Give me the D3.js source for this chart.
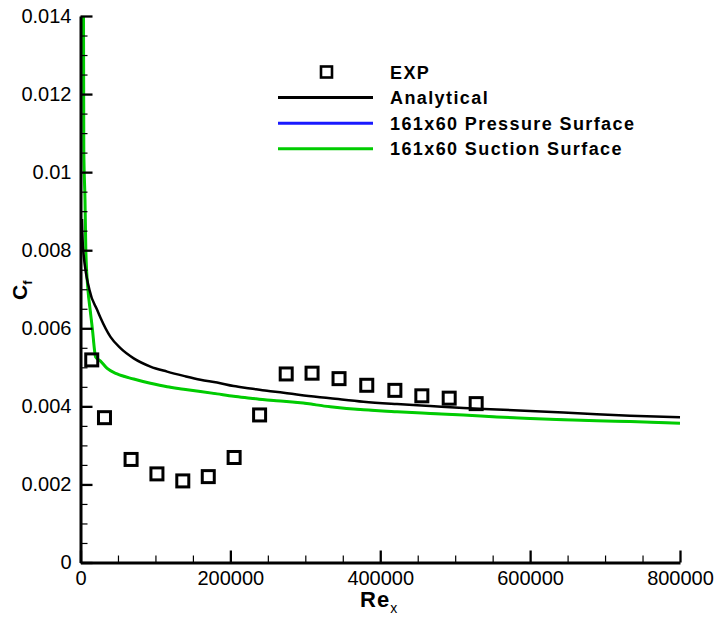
<!DOCTYPE html>
<html>
<head>
<meta charset="utf-8">
<script src="https://cdn.jsdelivr.net/npm/d3@7"></script>
<style>
  body { margin: 0; background: #fff; }
  svg { display: block; font-family: "Liberation Sans", Arial, sans-serif; }
</style>
</head>
<body>
<svg id="chart" width="720" height="622"></svg>
<script>
// experimental skin friction
const expRe = [15000, 32000, 67500, 102000, 136500, 170500, 205000, 239000, 274500, 309000, 345000, 382000, 419500, 455500, 492000, 528000];
const expCf = [0.00519, 0.00371, 0.00264, 0.00227, 0.00209, 0.00220, 0.00269, 0.00378, 0.00483, 0.00485, 0.00471, 0.00454, 0.00441, 0.00427, 0.00421, 0.00407];

// analytical curve
const anaRe = [2000, 3300, 12000, 22300, 26700, 40000, 53300, 71000, 93300, 115600, 137700, 160000, 182300, 204400, 226700, 248900, 271100, 293300, 333300, 377700, 422300, 466700, 511100, 555600, 600000, 644400, 688900, 733300, 800000];
const anaCf = [0.0088, 0.00808, 0.00698, 0.00647, 0.00627, 0.00578, 0.00549, 0.00523, 0.00502, 0.00489, 0.00478, 0.00468, 0.00461, 0.00452, 0.00446, 0.00440, 0.00435, 0.00429, 0.00421, 0.00412, 0.00406, 0.00401, 0.00396, 0.00392, 0.00388, 0.00384, 0.00380, 0.00376, 0.00372];

// 161x60 suction surface
const sucRe = [4000, 4400, 6000, 7100, 10000, 12900, 16000, 18700, 20000, 26700, 35600, 48900, 71000, 93300, 115600, 137700, 160000, 182300, 204400, 226700, 248900, 271100, 293300, 333300, 377700, 422300, 466700, 511100, 555600, 600000, 644400, 688900, 733300, 800000];
const sucCf = [0.0140, 0.01057, 0.00929, 0.00801, 0.00698, 0.00647, 0.00596, 0.00544, 0.00527, 0.00516, 0.00497, 0.00483, 0.00470, 0.00459, 0.00450, 0.00444, 0.00438, 0.00432, 0.00426, 0.00421, 0.00416, 0.00413, 0.00409, 0.00399, 0.00391, 0.00386, 0.00382, 0.00378, 0.00373, 0.00369, 0.00366, 0.00363, 0.00361, 0.00357];

// 161x60 pressure surface (hidden under the suction curve)
const presRe = [4000, 4400, 6000, 7100, 10000, 12900, 16000, 18700, 20000, 26700, 35600, 48900, 71000, 93300, 115600, 137700, 160000, 182300, 204400, 226700, 248900, 271100, 293300, 333300, 377700, 422300, 466700, 511100, 555600, 600000, 644400, 688900, 733300, 800000];
const presCf = [0.0140, 0.01057, 0.00929, 0.00801, 0.00698, 0.00647, 0.00596, 0.00544, 0.00527, 0.00516, 0.00497, 0.00483, 0.00470, 0.00459, 0.00450, 0.00444, 0.00438, 0.00432, 0.00426, 0.00421, 0.00416, 0.00413, 0.00409, 0.00399, 0.00391, 0.00386, 0.00382, 0.00378, 0.00373, 0.00369, 0.00366, 0.00363, 0.00361, 0.00357];

const xTicks = [0, 200000, 400000, 600000, 800000];
const xTickLabels = ['0', '200000', '400000', '600000', '800000'];
const xMinor = [50000, 100000, 150000, 250000, 300000, 350000, 450000, 500000, 550000, 650000, 700000, 750000];
const yTicks = [0, 0.002, 0.004, 0.006, 0.008, 0.01, 0.012, 0.014];
const yTickLabels = ['0', '0.002', '0.004', '0.006', '0.008', '0.01', '0.012', '0.014'];
const yMinor = [0.0005, 0.001, 0.0015, 0.0025, 0.003, 0.0035, 0.0045, 0.005, 0.0055, 0.0065, 0.007, 0.0075, 0.0085, 0.009, 0.0095, 0.0105, 0.011, 0.0115, 0.0125, 0.013, 0.0135];

const legendItems = [
  { name: 'EXP', type: 'square', color: '#000' },
  { name: 'Analytical', type: 'line', color: '#000' },
  { name: '161x60 Pressure Surface', type: 'line', color: '#1a1aff' },
  { name: '161x60 Suction Surface', type: 'line', color: '#00cc00' }
];

const svg = d3.select('#chart');

const x = d3.scaleLinear().domain([0, 800000]).range([80.5, 680]);
const y = d3.scaleLinear().domain([0, 0.014]).range([562.5, 16]);

const zip = (a, b) => a.map((v, i) => [v, b[i]]);
const line = d3.line()
  .x(d => x(d[0]))
  .y(d => y(d[1]))
  .curve(d3.curveMonotoneX);

// curves
svg.append('path')
  .datum(zip(presRe, presCf))
  .attr('d', line)
  .attr('fill', 'none')
  .attr('stroke', '#1a1aff')
  .attr('stroke-width', 1.6);

svg.append('path')
  .datum(zip(sucRe, sucCf))
  .attr('d', line)
  .attr('fill', 'none')
  .attr('stroke', '#00cc00')
  .attr('stroke-width', 3);

svg.append('path')
  .datum(zip(anaRe, anaCf))
  .attr('d', line)
  .attr('fill', 'none')
  .attr('stroke', '#000')
  .attr('stroke-width', 2.5);

// axes
const xAxis = svg.append('g')
  .attr('transform', `translate(0,${y(0)})`)
  .call(d3.axisBottom(x).tickValues(xTicks).tickFormat((d, i) => xTickLabels[i]).tickSize(-12).tickSizeOuter(0).tickPadding(8));

svg.append('g')
  .attr('transform', `translate(0,${y(0)})`)
  .call(d3.axisBottom(x).tickValues(xMinor).tickFormat('').tickSize(-7).tickSizeOuter(0))
  .call(g => g.select('.domain').remove())
  .selectAll('line').attr('stroke-width', 1.2);

const yAxis = svg.append('g')
  .attr('transform', `translate(${x(0)},0)`)
  .call(d3.axisLeft(y).tickValues(yTicks).tickFormat((d, i) => yTickLabels[i]).tickSize(-12).tickSizeOuter(0).tickPadding(9));

svg.append('g')
  .attr('transform', `translate(${x(0)},0)`)
  .call(d3.axisLeft(y).tickValues(yMinor).tickFormat('').tickSize(-7).tickSizeOuter(0))
  .call(g => g.select('.domain').remove())
  .selectAll('line').attr('stroke-width', 1.2);

[xAxis, yAxis].forEach(g => {
  g.select('.domain').attr('stroke', '#000').attr('stroke-width', 3);
  g.selectAll('.tick line').attr('stroke', '#000').attr('stroke-width', 2.3);
  g.selectAll('.tick text')
    .attr('fill', '#000')
    .style('font-size', '20px')
    .style('font-family', '"Liberation Sans", Arial, sans-serif');
});

// experimental points
svg.append('g')
  .selectAll('rect')
  .data(zip(expRe, expCf))
  .enter()
  .append('rect')
  .attr('x', d => x(d[0]) - 6)
  .attr('y', d => y(d[1]) - 6)
  .attr('width', 12)
  .attr('height', 12)
  .attr('fill', 'none')
  .attr('stroke', '#000')
  .attr('stroke-width', 3);

// axis titles
const yTitle = svg.append('text')
  .attr('transform', 'translate(27,300) rotate(-90)')
  .attr('fill', '#000')
  .style('font-weight', 'bold');
yTitle.append('tspan').text('C').style('font-size', '21px');
yTitle.append('tspan').text('f').attr('dy', 5).style('font-size', '13px');

const xTitle = svg.append('text')
  .attr('x', 360)
  .attr('y', 607)
  .attr('fill', '#000')
  .style('font-weight', 'bold');
xTitle.append('tspan').text('Re').style('font-size', '22px').style('letter-spacing', '1px');
xTitle.append('tspan').text('x').attr('dy', 6).style('font-size', '14px').style('font-weight', 'normal');

// legend
const legend = svg.append('g');
const rowY = i => 72 + i * 25.6;

legendItems.forEach((item, i) => {
  const cy = rowY(i);
  if (item.type === 'square') {
    legend.append('rect')
      .attr('x', 321).attr('y', cy - 5.5)
      .attr('width', 11).attr('height', 11)
      .attr('fill', 'none')
      .attr('stroke', item.color)
      .attr('stroke-width', 2.6);
  } else {
    legend.append('line')
      .attr('x1', 278).attr('x2', 373)
      .attr('y1', cy).attr('y2', cy)
      .attr('stroke', item.color)
      .attr('stroke-width', 3);
  }
  legend.append('text')
    .attr('x', 390)
    .attr('y', cy + 6.5)
    .attr('fill', '#000')
    .style('font-size', '18px')
    .style('font-weight', 'bold')
    .style('letter-spacing', '1.4px')
    .text(item.name);
});
</script>
</body>
</html>
